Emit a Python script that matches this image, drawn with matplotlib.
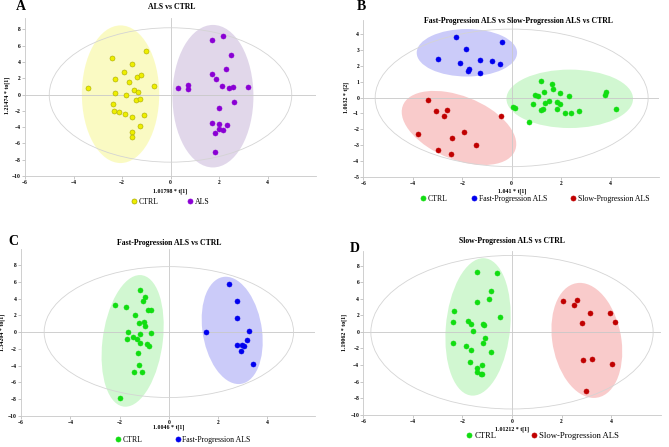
import matplotlib
matplotlib.use("Agg")
import matplotlib.pyplot as plt
from matplotlib.patches import Ellipse
from matplotlib.lines import Line2D

plt.rcParams['font.family'] = ['Liberation Serif', 'DejaVu Serif']

W, H = 669, 447

# ---- data (scores) ----
# A: ALS vs CTRL
a_ctrl_x = [-3.40, -2.41, -1.02, -1.60, -1.91, -2.28, -1.73, -1.39, -1.21, -0.69, -1.51, -1.36, -2.28,
            -1.84, -1.42, -1.24, -2.38, -2.35, -2.13, -1.86, -1.57, -1.10, -1.27, -1.58, -1.60]
a_ctrl_y = [0.78, 4.50, 5.30, 3.70, 2.80, 1.90, 1.56, 2.13, 2.38, 1.11, 0.57, 0.37, 0.16,
            -0.04, -0.61, -0.53, -1.15, -2.05, -2.17, -2.42, -2.79, -2.54, -3.85, -4.55, -5.16]
a_als_x = [2.17, 1.73, 2.49, 2.28, 1.73, 1.86, 2.13, 2.42, 2.59, 3.18, 0.29, 0.72, 0.74,
           2.63, 2.02, 1.73, 1.98, 2.31, 2.01, 2.16, 1.82, 1.84]
a_als_y = [7.21, 6.68, 4.84, 3.11, 2.58, 1.93, 1.11, 0.78, 0.98, 0.94, 0.78, 1.15, 0.70,
           -0.86, -1.64, -3.44, -3.61, -3.73, -4.18, -4.30, -4.71, -7.05]

# B: Fast vs Slow vs CTRL
b_ctrl_x = [1.17, 1.62, 1.68, 1.32, 1.94, 0.96, 1.08, 2.32, 3.80, 3.77, 1.51, 1.33, 1.83,
            1.95, 0.86, 0.04, 0.15, 1.27, 1.20, 1.83, 2.17, 2.39, 2.74, 4.22, 0.71]
b_ctrl_y = [1.03, 0.84, 0.51, 0.38, 0.30, 0.19, 0.08, 0.08, 0.36, 0.17, -0.21, -0.36, -0.25,
            -0.38, -0.42, -0.59, -0.68, -0.72, -0.80, -0.72, -0.99, -0.95, -0.84, -0.70, -1.52]
b_fast_x = [-2.24, -0.39, -1.86, -2.98, -2.08, -1.29, -0.78, -0.46, -1.71, -1.75, -1.29]
b_fast_y = [3.84, 3.52, 3.04, 2.45, 2.17, 2.38, 2.28, 2.13, 1.81, 1.65, 1.56]
b_slow_x = [-3.37, -3.05, -2.61, -2.75, -0.42, -3.77, -1.94, -2.43, -1.44, -2.99, -2.45]
b_slow_y = [-0.17, -0.84, -0.76, -1.18, -1.16, -2.28, -2.17, -2.53, -3.00, -3.33, -3.54]

# C: Fast vs CTRL
c_ctrl_x = [-1.18, -0.96, -1.03, -2.19, -1.73, -0.74, -0.83, -1.38, -1.22, -1.01, -0.96, -1.66, -1.18,
            -0.74, -1.45, -1.68, -1.30, -1.16, -0.87, -0.79, -1.26, -1.23, -1.43, -1.08, -1.99]
c_ctrl_y = [4.96, 4.21, 3.73, 3.21, 2.94, 2.66, 2.62, 2.02, 1.07, 1.23, 0.75, 0.04, -0.20,
            -0.12, -0.56, -0.79, -0.87, -1.27, -1.47, -1.67, -2.50, -3.97, -4.72, -4.76, -7.82]
c_fast_x = [2.46, 2.77, 2.77, 1.49, 3.26, 3.19, 2.76, 2.98, 3.06, 2.92, 3.42]
c_fast_y = [5.71, 3.73, 1.71, -0.04, 0.08, -0.91, -1.51, -1.51, -1.63, -2.30, -3.85]

# D: Slow vs CTRL
d_ctrl_x = [-1.42, -0.59, -0.83, -0.93, -1.42, -2.33, -2.37, -0.47, -1.76, -1.65, -1.17, -1.12, -1.57,
            -1.09, -2.38, -1.18, -1.87, -1.67, -0.83, -1.68, -1.22, -1.42, -1.40, -1.25, -1.20]
d_ctrl_y = [7.26, 7.10, 4.92, 3.91, 3.59, 2.54, 1.25, 1.81, 1.37, 0.89, 0.89, 0.85, 0.16,
            -0.77, -1.37, -1.33, -1.69, -2.14, -2.38, -3.59, -3.95, -4.40, -4.88, -5.04, -5.12]
d_slow_x = [2.07, 2.63, 2.51, 3.15, 3.94, 2.82, 4.14, 2.86, 3.24, 4.05, 3.00]
d_slow_y = [3.67, 3.79, 3.27, 2.22, 2.22, 1.05, 1.17, -3.39, -3.27, -3.91, -7.18]

YELLOW, YELLOW_EDGE = '#eeee00', '#a8a800'
PURPLE = '#8a00d4'
GREEN = '#11dd11'
BLUE = '#0000ee'
RED = '#c00000'

fig = plt.figure(figsize=(W / 100, H / 100), dpi=100)


def px_axes(left, top, right, bottom):
    return fig.add_axes([left / W, 1 - bottom / H, (right - left) / W, (bottom - top) / H])


def style(ax, xlim, ylim, yticks):
    ax.set_xlim(*xlim)
    ax.set_ylim(*ylim)
    ax.set_xticks([-6, -4, -2, 0, 2, 4])
    ax.set_yticks(yticks)
    for s in ['top', 'right']:
        ax.spines[s].set_visible(False)
    for s in ['left', 'bottom']:
        ax.spines[s].set_color('#c8c8c8')
        ax.spines[s].set_linewidth(0.6)
    ax.tick_params(length=2, width=0.5, color='#b0b0b0', labelsize=4, pad=1)
    for lab in ax.get_xticklabels() + ax.get_yticklabels():
        lab.set_fontweight('bold')
    ax.axhline(0, color='#c8c8c8', lw=0.6, zorder=1)
    ax.axvline(0, color='#c8c8c8', lw=0.6, zorder=1)


def hotelling(ax, w, h, cy=0):
    ax.add_patch(Ellipse((0, cy), w, h, fill=False, ec='#d4d4d4', lw=0.6, zorder=1))


def group_ellipse(ax, cx, cy, w, h, ang, color, alpha):
    ax.add_patch(Ellipse((cx, cy), w, h, angle=ang, fc=color, ec='none', alpha=alpha, zorder=0.5))


def labels(ax, xl, yl, xpos, ypos):
    ax.set_xlabel(xl, fontsize=4.2, fontweight='bold')
    ax.set_ylabel(yl, fontsize=4.2, fontweight='bold')
    ax.xaxis.set_label_coords(xpos[0] / W, 1 - xpos[1] / H, transform=fig.transFigure)
    ax.yaxis.set_label_coords(ypos[0] / W, 1 - ypos[1] / H, transform=fig.transFigure)


def title(text, x, y, letter, lx, ly):
    fig.text(x / W, 1 - y / H, text, ha='center', va='center', fontsize=5.6, fontweight='bold')
    fig.text(lx / W, 1 - ly / H, letter, ha='center', va='center', fontsize=10, fontweight='bold')


def legend(entries, x, y, spacing, fs=5.6):
    handles = [Line2D([], [], ls='none', marker='o', ms=3.6, mfc=c, mec=e, mew=0.5, label=l)
               for l, c, e in entries]
    fig.legend(handles=handles, loc='center left', bbox_to_anchor=(x / W, 1 - y / H), ncol=len(handles),
               frameon=False, fontsize=fs, handlelength=0.8, handletextpad=0.2, columnspacing=spacing,
               borderpad=0, borderaxespad=0)


sc = dict(s=13, zorder=3, linewidths=0.4)

# ---- A ----
ax = px_axes(25, 18, 316, 176)
style(ax, (-6, 6), (-10, 9.4), range(-10, 9, 2))
hotelling(ax, 10.0, 16.5, -0.05)
group_ellipse(ax, -2.06, 0.04, 3.19, 16.9, 0, '#f6f67a', 0.45)
group_ellipse(ax, 1.75, -0.2, 3.34, 17.5, 0, '#b49ccc', 0.4)
ax.scatter(a_ctrl_x, a_ctrl_y, c=YELLOW, edgecolors=YELLOW_EDGE, **sc)
ax.scatter(a_als_x, a_als_y, c=PURPLE, edgecolors=PURPLE, **sc)
labels(ax, '1.01798 * t[1]', '1.21474 * to[1]', (170, 188), (10, 95))
title('ALS vs CTRL', 172, 7, 'A', 21, 7)
legend([('CTRL', YELLOW, YELLOW_EDGE), ('ALS', PURPLE, PURPLE)], 131, 202, 3.6)

# ---- B ----
ax = px_axes(363.3, 20, 659, 176.7)
style(ax, (-6, 5.96), (-5, 4.9), range(-5, 5))
hotelling(ax, 11.04, 8.69, -0.02)
group_ellipse(ax, -1.81, 2.83, 4.06, 3.0, 0, '#8c8cf2', 0.45)
group_ellipse(ax, -2.13, -1.92, 5.58, 3.5, -45.7, '#f28c8c', 0.45)
group_ellipse(ax, 2.35, -0.08, 5.12, 3.69, 0, '#8ced8c', 0.4)
ax.scatter(b_ctrl_x, b_ctrl_y, c=GREEN, edgecolors=GREEN, **sc)
ax.scatter(b_fast_x, b_fast_y, c=BLUE, edgecolors=BLUE, **sc)
ax.scatter(b_slow_x, b_slow_y, c=RED, edgecolors=RED, **sc)
labels(ax, '1.041 * t[1]', '1.0632 * t[2]', (512, 188), (349, 97))
title('Fast-Progression ALS vs Slow-Progression ALS vs CTRL', 519, 21, 'B', 361, 7)
legend([('CTRL', GREEN, GREEN), ('Fast-Progression ALS', BLUE, BLUE),
        ('Slow-Progression ALS', RED, RED)], 420, 199, 3.0)

# ---- C ----
ax = px_axes(21, 249, 315, 416)
style(ax, (-6, 5.93), (-10, 9.9), range(-10, 9, 2))
hotelling(ax, 10.12, 15.6, 0)
group_ellipse(ax, -1.47, -1.05, 2.45, 15.7, -2.2, '#8ced8c', 0.4)
group_ellipse(ax, 2.57, 0.2, 2.42, 12.8, 2.4, '#8c8cf2', 0.45)
ax.scatter(c_ctrl_x, c_ctrl_y, c=GREEN, edgecolors=GREEN, **sc)
ax.scatter(c_fast_x, c_fast_y, c=BLUE, edgecolors=BLUE, **sc)
labels(ax, '1.0046 * t[1]', '1.34204 * to[1]', (169, 425), (5, 332))
title('Fast-Progression ALS vs CTRL', 169, 243, 'C', 13, 241)
legend([('CTRL', GREEN, GREEN), ('Fast-Progression ALS', BLUE, BLUE)], 115, 440, 4.1)

# ---- D ----
ax = px_axes(363.3, 250.7, 660.7, 414.7)
style(ax, (-6, 6), (-10, 9.8), range(-10, 9, 2))
hotelling(ax, 11.39, 18.54, -0.04)
group_ellipse(ax, -1.37, 0.6, 2.6, 16.6, -1.5, '#8ced8c', 0.4)
group_ellipse(ax, 3.02, -1.03, 2.8, 13.9, 2.4, '#f28c8c', 0.45)
ax.scatter(d_ctrl_x, d_ctrl_y, c=GREEN, edgecolors=GREEN, **sc)
ax.scatter(d_slow_x, d_slow_y, c=RED, edgecolors=RED, **sc)
labels(ax, '1.01212 * t[1]', '1.19062 * to[1]', (512, 426), (347, 332))
title('Slow-Progression ALS vs CTRL', 512, 241, 'D', 355, 249)
legend([('CTRL', GREEN, GREEN), ('Slow-Progression ALS', RED, RED)], 466, 436, 3.95, fs=6.2)

fig.savefig('out.png', dpi=100)
